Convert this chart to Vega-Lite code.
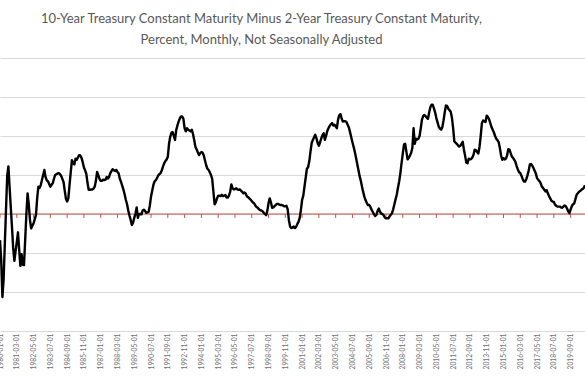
{
  "$schema": "https://vega.github.io/schema/vega-lite/v6.json",
  "width": 585,
  "height": 273,
  "autosize": {"type": "none"},
  "padding": {"left": 0, "right": 0, "top": 58, "bottom": 59},
  "background": "white",
  "config": {"view": {"stroke": null}},
  "title": {
    "text": ["10-Year Treasury Constant Maturity Minus 2-Year Treasury Constant Maturity,", "Percent, Monthly, Not Seasonally Adjusted"],
    "anchor": "middle",
    "dx": -31,
    "offset": 11,
    "font": "Lato",
    "fontSize": 13,
    "fontWeight": "normal",
    "color": "#595959",
    "lineHeight": 21
  },
  "datasets": {
    "ticks": [
      {"d": "1980-01-01"}, {"d": "1981-03-01"}, {"d": "1982-05-01"}, {"d": "1983-07-01"}, {"d": "1984-09-01"},
      {"d": "1985-11-01"}, {"d": "1987-01-01"}, {"d": "1988-03-01"}, {"d": "1989-05-01"}, {"d": "1990-07-01"},
      {"d": "1991-09-01"}, {"d": "1992-11-01"}, {"d": "1994-01-01"}, {"d": "1995-03-01"}, {"d": "1996-05-01"},
      {"d": "1997-07-01"}, {"d": "1998-09-01"}, {"d": "1999-11-01"}, {"d": "2001-01-01"}, {"d": "2002-03-01"},
      {"d": "2003-05-01"}, {"d": "2004-07-01"}, {"d": "2005-09-01"}, {"d": "2006-11-01"}, {"d": "2008-01-01"},
      {"d": "2009-03-01"}, {"d": "2010-05-01"}, {"d": "2011-07-01"}, {"d": "2012-09-01"}, {"d": "2013-11-01"},
      {"d": "2015-01-01"}, {"d": "2016-03-01"}, {"d": "2017-05-01"}, {"d": "2018-07-01"}, {"d": "2019-09-01"}
    ],
    "spread": [
      {"d":"1980-01-01","v":-0.67},{"d":"1980-02-01","v":-1.19},{"d":"1980-03-01","v":-2.13},{"d":"1980-04-01","v":-1.68},{"d":"1980-05-01","v":-0.79},{"d":"1980-06-01","v":0.1},{"d":"1980-07-01","v":0.98},{"d":"1980-08-01","v":1.22},{"d":"1980-09-01","v":0.69},{"d":"1980-10-01","v":0.17},{"d":"1980-11-01","v":-0.34},{"d":"1980-12-01","v":-0.87},
      {"d":"1981-01-01","v":-1.2},{"d":"1981-02-01","v":-0.95},{"d":"1981-03-01","v":-0.72},{"d":"1981-04-01","v":-0.47},{"d":"1981-05-01","v":-0.91},{"d":"1981-06-01","v":-1.33},{"d":"1981-07-01","v":-1.03},{"d":"1981-08-01","v":-1.3},{"d":"1981-09-01","v":-1.31},{"d":"1981-10-01","v":-0.67},{"d":"1981-11-01","v":0.0},{"d":"1981-12-01","v":0.53},
      {"d":"1982-01-01","v":0.25},{"d":"1982-02-01","v":-0.15},{"d":"1982-03-01","v":-0.37},{"d":"1982-04-01","v":-0.3},{"d":"1982-05-01","v":-0.24},{"d":"1982-06-01","v":-0.13},{"d":"1982-07-01","v":-0.03},{"d":"1982-08-01","v":0.4},{"d":"1982-09-01","v":0.7},{"d":"1982-10-01","v":0.67},{"d":"1982-11-01","v":0.74},{"d":"1982-12-01","v":0.87},
      {"d":"1983-01-01","v":1.0},{"d":"1983-02-01","v":1.13},{"d":"1983-03-01","v":0.95},{"d":"1983-04-01","v":0.86},{"d":"1983-05-01","v":0.84},{"d":"1983-06-01","v":0.77},{"d":"1983-07-01","v":0.7},{"d":"1983-08-01","v":0.75},{"d":"1983-09-01","v":0.79},{"d":"1983-10-01","v":0.9},{"d":"1983-11-01","v":1.0},{"d":"1983-12-01","v":1.02},
      {"d":"1984-01-01","v":1.04},{"d":"1984-02-01","v":1.05},{"d":"1984-03-01","v":1.02},{"d":"1984-04-01","v":0.98},{"d":"1984-05-01","v":0.9},{"d":"1984-06-01","v":0.82},{"d":"1984-07-01","v":0.6},{"d":"1984-08-01","v":0.39},{"d":"1984-09-01","v":0.32},{"d":"1984-10-01","v":0.4},{"d":"1984-11-01","v":0.74},{"d":"1984-12-01","v":1.07},
      {"d":"1985-01-01","v":1.38},{"d":"1985-02-01","v":1.3},{"d":"1985-03-01","v":1.27},{"d":"1985-04-01","v":1.42},{"d":"1985-05-01","v":1.39},{"d":"1985-06-01","v":1.45},{"d":"1985-07-01","v":1.51},{"d":"1985-08-01","v":1.5},{"d":"1985-09-01","v":1.44},{"d":"1985-10-01","v":1.33},{"d":"1985-11-01","v":1.19},{"d":"1985-12-01","v":1.12},
      {"d":"1986-01-01","v":1.03},{"d":"1986-02-01","v":0.8},{"d":"1986-03-01","v":0.62},{"d":"1986-04-01","v":0.62},{"d":"1986-05-01","v":0.63},{"d":"1986-06-01","v":0.63},{"d":"1986-07-01","v":0.65},{"d":"1986-08-01","v":0.7},{"d":"1986-09-01","v":0.85},{"d":"1986-10-01","v":1.08},{"d":"1986-11-01","v":1.0},{"d":"1986-12-01","v":0.9},
      {"d":"1987-01-01","v":0.85},{"d":"1987-02-01","v":0.85},{"d":"1987-03-01","v":0.88},{"d":"1987-04-01","v":0.87},{"d":"1987-05-01","v":0.88},{"d":"1987-06-01","v":0.95},{"d":"1987-07-01","v":0.91},{"d":"1987-08-01","v":0.95},{"d":"1987-09-01","v":1.05},{"d":"1987-10-01","v":1.1},{"d":"1987-11-01","v":1.15},{"d":"1987-12-01","v":1.12},
      {"d":"1988-01-01","v":1.1},{"d":"1988-02-01","v":1.13},{"d":"1988-03-01","v":1.08},{"d":"1988-04-01","v":1.04},{"d":"1988-05-01","v":0.9},{"d":"1988-06-01","v":0.82},{"d":"1988-07-01","v":0.72},{"d":"1988-08-01","v":0.62},{"d":"1988-09-01","v":0.5},{"d":"1988-10-01","v":0.36},{"d":"1988-11-01","v":0.25},{"d":"1988-12-01","v":0.09},
      {"d":"1989-01-01","v":-0.04},{"d":"1989-02-01","v":-0.15},{"d":"1989-03-01","v":-0.28},{"d":"1989-04-01","v":-0.22},{"d":"1989-05-01","v":-0.1},{"d":"1989-06-01","v":0.0},{"d":"1989-07-01","v":0.17},{"d":"1989-08-01","v":-0.1},{"d":"1989-09-01","v":0.0},{"d":"1989-10-01","v":0.0},{"d":"1989-11-01","v":-0.01},{"d":"1989-12-01","v":0.09},
      {"d":"1990-01-01","v":0.11},{"d":"1990-02-01","v":0.08},{"d":"1990-03-01","v":0.03},{"d":"1990-04-01","v":0.04},{"d":"1990-05-01","v":0.06},{"d":"1990-06-01","v":0.22},{"d":"1990-07-01","v":0.45},{"d":"1990-08-01","v":0.6},{"d":"1990-09-01","v":0.75},{"d":"1990-10-01","v":0.84},{"d":"1990-11-01","v":0.87},{"d":"1990-12-01","v":0.92},
      {"d":"1991-01-01","v":0.99},{"d":"1991-02-01","v":1.02},{"d":"1991-03-01","v":1.05},{"d":"1991-04-01","v":1.12},{"d":"1991-05-01","v":1.22},{"d":"1991-06-01","v":1.3},{"d":"1991-07-01","v":1.36},{"d":"1991-08-01","v":1.4},{"d":"1991-09-01","v":1.47},{"d":"1991-10-01","v":1.8},{"d":"1991-11-01","v":1.98},{"d":"1991-12-01","v":2.08},
      {"d":"1992-01-01","v":2.1},{"d":"1992-02-01","v":2.0},{"d":"1992-03-01","v":1.9},{"d":"1992-04-01","v":2.15},{"d":"1992-05-01","v":2.27},{"d":"1992-06-01","v":2.37},{"d":"1992-07-01","v":2.45},{"d":"1992-08-01","v":2.5},{"d":"1992-09-01","v":2.5},{"d":"1992-10-01","v":2.44},{"d":"1992-11-01","v":2.2},{"d":"1992-12-01","v":2.12},
      {"d":"1993-01-01","v":2.2},{"d":"1993-02-01","v":2.16},{"d":"1993-03-01","v":2.14},{"d":"1993-04-01","v":2.12},{"d":"1993-05-01","v":2.16},{"d":"1993-06-01","v":2.05},{"d":"1993-07-01","v":1.9},{"d":"1993-08-01","v":1.72},{"d":"1993-09-01","v":1.66},{"d":"1993-10-01","v":1.58},{"d":"1993-11-01","v":1.51},{"d":"1993-12-01","v":1.56},
      {"d":"1994-01-01","v":1.59},{"d":"1994-02-01","v":1.57},{"d":"1994-03-01","v":1.5},{"d":"1994-04-01","v":1.37},{"d":"1994-05-01","v":1.25},{"d":"1994-06-01","v":1.16},{"d":"1994-07-01","v":1.13},{"d":"1994-08-01","v":1.07},{"d":"1994-09-01","v":1.0},{"d":"1994-10-01","v":0.9},{"d":"1994-11-01","v":0.58},{"d":"1994-12-01","v":0.25},
      {"d":"1995-01-01","v":0.3},{"d":"1995-02-01","v":0.4},{"d":"1995-03-01","v":0.47},{"d":"1995-04-01","v":0.47},{"d":"1995-05-01","v":0.46},{"d":"1995-06-01","v":0.49},{"d":"1995-07-01","v":0.46},{"d":"1995-08-01","v":0.47},{"d":"1995-09-01","v":0.49},{"d":"1995-10-01","v":0.42},{"d":"1995-11-01","v":0.42},{"d":"1995-12-01","v":0.47},
      {"d":"1996-01-01","v":0.57},{"d":"1996-02-01","v":0.76},{"d":"1996-03-01","v":0.66},{"d":"1996-04-01","v":0.63},{"d":"1996-05-01","v":0.64},{"d":"1996-06-01","v":0.66},{"d":"1996-07-01","v":0.63},{"d":"1996-08-01","v":0.62},{"d":"1996-09-01","v":0.63},{"d":"1996-10-01","v":0.6},{"d":"1996-11-01","v":0.57},{"d":"1996-12-01","v":0.53},
      {"d":"1997-01-01","v":0.55},{"d":"1997-02-01","v":0.52},{"d":"1997-03-01","v":0.45},{"d":"1997-04-01","v":0.43},{"d":"1997-05-01","v":0.4},{"d":"1997-06-01","v":0.37},{"d":"1997-07-01","v":0.33},{"d":"1997-08-01","v":0.3},{"d":"1997-09-01","v":0.27},{"d":"1997-10-01","v":0.22},{"d":"1997-11-01","v":0.18},{"d":"1997-12-01","v":0.16},
      {"d":"1998-01-01","v":0.12},{"d":"1998-02-01","v":0.1},{"d":"1998-03-01","v":0.09},{"d":"1998-04-01","v":0.07},{"d":"1998-05-01","v":0.03},{"d":"1998-06-01","v":0.0},{"d":"1998-07-01","v":-0.03},{"d":"1998-08-01","v":0.08},{"d":"1998-09-01","v":0.28},{"d":"1998-10-01","v":0.4},{"d":"1998-11-01","v":0.3},{"d":"1998-12-01","v":0.16},
      {"d":"1999-01-01","v":0.17},{"d":"1999-02-01","v":0.2},{"d":"1999-03-01","v":0.23},{"d":"1999-04-01","v":0.26},{"d":"1999-05-01","v":0.26},{"d":"1999-06-01","v":0.24},{"d":"1999-07-01","v":0.23},{"d":"1999-08-01","v":0.23},{"d":"1999-09-01","v":0.22},{"d":"1999-10-01","v":0.2},{"d":"1999-11-01","v":0.2},{"d":"1999-12-01","v":0.21},
      {"d":"2000-01-01","v":0.12},{"d":"2000-02-01","v":-0.16},{"d":"2000-03-01","v":-0.32},{"d":"2000-04-01","v":-0.36},{"d":"2000-05-01","v":-0.35},{"d":"2000-06-01","v":-0.32},{"d":"2000-07-01","v":-0.36},{"d":"2000-08-01","v":-0.33},{"d":"2000-09-01","v":-0.26},{"d":"2000-10-01","v":-0.2},{"d":"2000-11-01","v":-0.1},{"d":"2000-12-01","v":0.1},
      {"d":"2001-01-01","v":0.36},{"d":"2001-02-01","v":0.47},{"d":"2001-03-01","v":0.7},{"d":"2001-04-01","v":0.93},{"d":"2001-05-01","v":1.16},{"d":"2001-06-01","v":1.2},{"d":"2001-07-01","v":1.35},{"d":"2001-08-01","v":1.6},{"d":"2001-09-01","v":1.82},{"d":"2001-10-01","v":1.9},{"d":"2001-11-01","v":1.97},{"d":"2001-12-01","v":2.03},
      {"d":"2002-01-01","v":1.94},{"d":"2002-02-01","v":1.82},{"d":"2002-03-01","v":1.75},{"d":"2002-04-01","v":1.84},{"d":"2002-05-01","v":1.94},{"d":"2002-06-01","v":2.02},{"d":"2002-07-01","v":2.07},{"d":"2002-08-01","v":1.9},{"d":"2002-09-01","v":2.0},{"d":"2002-10-01","v":2.13},{"d":"2002-11-01","v":2.2},{"d":"2002-12-01","v":2.26},
      {"d":"2003-01-01","v":2.3},{"d":"2003-02-01","v":2.33},{"d":"2003-03-01","v":2.27},{"d":"2003-04-01","v":2.29},{"d":"2003-05-01","v":2.25},{"d":"2003-06-01","v":2.2},{"d":"2003-07-01","v":2.42},{"d":"2003-08-01","v":2.53},{"d":"2003-09-01","v":2.56},{"d":"2003-10-01","v":2.45},{"d":"2003-11-01","v":2.37},{"d":"2003-12-01","v":2.38},
      {"d":"2004-01-01","v":2.38},{"d":"2004-02-01","v":2.36},{"d":"2004-03-01","v":2.29},{"d":"2004-04-01","v":2.22},{"d":"2004-05-01","v":2.1},{"d":"2004-06-01","v":1.97},{"d":"2004-07-01","v":1.84},{"d":"2004-08-01","v":1.72},{"d":"2004-09-01","v":1.59},{"d":"2004-10-01","v":1.44},{"d":"2004-11-01","v":1.28},{"d":"2004-12-01","v":1.13},
      {"d":"2005-01-01","v":0.97},{"d":"2005-02-01","v":0.85},{"d":"2005-03-01","v":0.7},{"d":"2005-04-01","v":0.56},{"d":"2005-05-01","v":0.44},{"d":"2005-06-01","v":0.35},{"d":"2005-07-01","v":0.28},{"d":"2005-08-01","v":0.23},{"d":"2005-09-01","v":0.23},{"d":"2005-10-01","v":0.18},{"d":"2005-11-01","v":0.11},{"d":"2005-12-01","v":0.05},
      {"d":"2006-01-01","v":-0.01},{"d":"2006-02-01","v":-0.05},{"d":"2006-03-01","v":-0.02},{"d":"2006-04-01","v":0.08},{"d":"2006-05-01","v":0.14},{"d":"2006-06-01","v":0.06},{"d":"2006-07-01","v":0.01},{"d":"2006-08-01","v":0.0},{"d":"2006-09-01","v":-0.03},{"d":"2006-10-01","v":-0.09},{"d":"2006-11-01","v":-0.11},{"d":"2006-12-01","v":-0.11},
      {"d":"2007-01-01","v":-0.11},{"d":"2007-02-01","v":-0.06},{"d":"2007-03-01","v":-0.02},{"d":"2007-04-01","v":0.02},{"d":"2007-05-01","v":0.12},{"d":"2007-06-01","v":0.25},{"d":"2007-07-01","v":0.38},{"d":"2007-08-01","v":0.5},{"d":"2007-09-01","v":0.68},{"d":"2007-10-01","v":0.84},{"d":"2007-11-01","v":1.05},{"d":"2007-12-01","v":1.31},
      {"d":"2008-01-01","v":1.55},{"d":"2008-02-01","v":1.78},{"d":"2008-03-01","v":1.8},{"d":"2008-04-01","v":1.6},{"d":"2008-05-01","v":1.4},{"d":"2008-06-01","v":1.44},{"d":"2008-07-01","v":1.5},{"d":"2008-08-01","v":1.57},{"d":"2008-09-01","v":1.7},{"d":"2008-10-01","v":2.2},{"d":"2008-11-01","v":1.8},{"d":"2008-12-01","v":1.93},
      {"d":"2009-01-01","v":1.91},{"d":"2009-02-01","v":1.93},{"d":"2009-03-01","v":2.0},{"d":"2009-04-01","v":2.2},{"d":"2009-05-01","v":2.42},{"d":"2009-06-01","v":2.51},{"d":"2009-07-01","v":2.54},{"d":"2009-08-01","v":2.51},{"d":"2009-09-01","v":2.47},{"d":"2009-10-01","v":2.44},{"d":"2009-11-01","v":2.6},{"d":"2009-12-01","v":2.74},
      {"d":"2010-01-01","v":2.8},{"d":"2010-02-01","v":2.8},{"d":"2010-03-01","v":2.71},{"d":"2010-04-01","v":2.6},{"d":"2010-05-01","v":2.46},{"d":"2010-06-01","v":2.35},{"d":"2010-07-01","v":2.24},{"d":"2010-08-01","v":2.19},{"d":"2010-09-01","v":2.16},{"d":"2010-10-01","v":2.23},{"d":"2010-11-01","v":2.4},{"d":"2010-12-01","v":2.61},
      {"d":"2011-01-01","v":2.78},{"d":"2011-02-01","v":2.77},{"d":"2011-03-01","v":2.7},{"d":"2011-04-01","v":2.66},{"d":"2011-05-01","v":2.62},{"d":"2011-06-01","v":2.47},{"d":"2011-07-01","v":2.2},{"d":"2011-08-01","v":1.86},{"d":"2011-09-01","v":1.83},{"d":"2011-10-01","v":1.8},{"d":"2011-11-01","v":1.76},{"d":"2011-12-01","v":1.73},
      {"d":"2012-01-01","v":1.75},{"d":"2012-02-01","v":1.8},{"d":"2012-03-01","v":1.85},{"d":"2012-04-01","v":1.65},{"d":"2012-05-01","v":1.49},{"d":"2012-06-01","v":1.32},{"d":"2012-07-01","v":1.3},{"d":"2012-08-01","v":1.42},{"d":"2012-09-01","v":1.4},{"d":"2012-10-01","v":1.41},{"d":"2012-11-01","v":1.45},{"d":"2012-12-01","v":1.52},
      {"d":"2013-01-01","v":1.65},{"d":"2013-02-01","v":1.64},{"d":"2013-03-01","v":1.59},{"d":"2013-04-01","v":1.55},{"d":"2013-05-01","v":1.72},{"d":"2013-06-01","v":2.0},{"d":"2013-07-01","v":2.33},{"d":"2013-08-01","v":2.4},{"d":"2013-09-01","v":2.38},{"d":"2013-10-01","v":2.36},{"d":"2013-11-01","v":2.52},{"d":"2013-12-01","v":2.49},
      {"d":"2014-01-01","v":2.43},{"d":"2014-02-01","v":2.33},{"d":"2014-03-01","v":2.23},{"d":"2014-04-01","v":2.16},{"d":"2014-05-01","v":2.09},{"d":"2014-06-01","v":2.0},{"d":"2014-07-01","v":1.93},{"d":"2014-08-01","v":1.89},{"d":"2014-09-01","v":1.84},{"d":"2014-10-01","v":1.69},{"d":"2014-11-01","v":1.5},{"d":"2014-12-01","v":1.39},
      {"d":"2015-01-01","v":1.43},{"d":"2015-02-01","v":1.4},{"d":"2015-03-01","v":1.42},{"d":"2015-04-01","v":1.5},{"d":"2015-05-01","v":1.66},{"d":"2015-06-01","v":1.65},{"d":"2015-07-01","v":1.56},{"d":"2015-08-01","v":1.47},{"d":"2015-09-01","v":1.44},{"d":"2015-10-01","v":1.39},{"d":"2015-11-01","v":1.33},{"d":"2015-12-01","v":1.23},
      {"d":"2016-01-01","v":1.14},{"d":"2016-02-01","v":1.07},{"d":"2016-03-01","v":1.05},{"d":"2016-04-01","v":0.98},{"d":"2016-05-01","v":0.9},{"d":"2016-06-01","v":0.83},{"d":"2016-07-01","v":0.83},{"d":"2016-08-01","v":0.89},{"d":"2016-09-01","v":0.99},{"d":"2016-10-01","v":1.11},{"d":"2016-11-01","v":1.27},{"d":"2016-12-01","v":1.28},
      {"d":"2017-01-01","v":1.24},{"d":"2017-02-01","v":1.18},{"d":"2017-03-01","v":1.11},{"d":"2017-04-01","v":1.04},{"d":"2017-05-01","v":0.92},{"d":"2017-06-01","v":0.88},{"d":"2017-07-01","v":0.84},{"d":"2017-08-01","v":0.79},{"d":"2017-09-01","v":0.7},{"d":"2017-10-01","v":0.67},{"d":"2017-11-01","v":0.62},{"d":"2017-12-01","v":0.58},
      {"d":"2018-01-01","v":0.61},{"d":"2018-02-01","v":0.53},{"d":"2018-03-01","v":0.46},{"d":"2018-04-01","v":0.4},{"d":"2018-05-01","v":0.34},{"d":"2018-06-01","v":0.32},{"d":"2018-07-01","v":0.31},{"d":"2018-08-01","v":0.24},{"d":"2018-09-01","v":0.21},{"d":"2018-10-01","v":0.19},{"d":"2018-11-01","v":0.19},{"d":"2018-12-01","v":0.19},
      {"d":"2019-01-01","v":0.17},{"d":"2019-02-01","v":0.16},{"d":"2019-03-01","v":0.19},{"d":"2019-04-01","v":0.22},{"d":"2019-05-01","v":0.2},{"d":"2019-06-01","v":0.14},{"d":"2019-07-01","v":0.07},{"d":"2019-08-01","v":0.02},{"d":"2019-09-01","v":0.12},{"d":"2019-10-01","v":0.2},{"d":"2019-11-01","v":0.25},{"d":"2019-12-01","v":0.27},
      {"d":"2020-01-01","v":0.38},{"d":"2020-02-01","v":0.49},{"d":"2020-03-01","v":0.53},{"d":"2020-04-01","v":0.57},{"d":"2020-05-01","v":0.59},{"d":"2020-06-01","v":0.62},{"d":"2020-07-01","v":0.64},{"d":"2020-08-01","v":0.67},{"d":"2020-09-01","v":0.74}
    ]
  },
  "layer": [
    {
      "data": {"name": "spread"},
      "mark": {"type": "line", "color": "#000000", "strokeWidth": 2.4, "opacity": 0},
      "encoding": {
        "x": {
          "field": "d",
          "type": "ordinal",
          "scale": {"type": "point", "padding": 0},
          "axis": {
            "title": null,
            "values": ["1980-01-01","1981-03-01","1982-05-01","1983-07-01","1984-09-01","1985-11-01","1987-01-01","1988-03-01","1989-05-01","1990-07-01","1991-09-01","1992-11-01","1994-01-01","1995-03-01","1996-05-01","1997-07-01","1998-09-01","1999-11-01","2001-01-01","2002-03-01","2003-05-01","2004-07-01","2005-09-01","2006-11-01","2008-01-01","2009-03-01","2010-05-01","2011-07-01","2012-09-01","2013-11-01","2015-01-01","2016-03-01","2017-05-01","2018-07-01","2019-09-01"],
            "labelAngle": 270,
            "labelFont": "Lato",
            "labelFontSize": 6.7,
            "labelColor": "#707070",
            "labelPadding": 2,
            "labelOverlap": false,
            "labelBound": false,
            "labelFlush": false,
            "ticks": false,
            "domain": false,
            "grid": false
          }
        },
        "y": {
          "field": "v",
          "type": "quantitative",
          "scale": {"domain": [-3, 4], "nice": false, "zero": false},
          "axis": {"title": null, "values": [-3, -2, -1, 0, 1, 2, 3, 4], "tickCount": 8, "labels": false, "ticks": false, "domain": false, "grid": true, "gridColor": "#d9d9d9", "gridWidth": 1}
        }
      }
    },
    {
      "data": {"values": [{}]},
      "mark": {"type": "rule", "color": "#c0504d", "strokeWidth": 1},
      "encoding": {
        "y": {"datum": 0, "type": "quantitative"}
      }
    },
    {
      "data": {"name": "ticks"},
      "mark": {"type": "rule", "color": "#c0504d", "strokeWidth": 1},
      "encoding": {
        "x": {"field": "d", "type": "ordinal"},
        "y": {"datum": 0, "type": "quantitative"},
        "y2": {"datum": -0.1}
      }
    },
    {
      "data": {"name": "spread"},
      "mark": {"type": "line", "color": "#000000", "strokeWidth": 2.4, "strokeJoin": "round"},
      "encoding": {
        "x": {"field": "d", "type": "ordinal"},
        "y": {"field": "v", "type": "quantitative"}
      }
    }
  ]
}
